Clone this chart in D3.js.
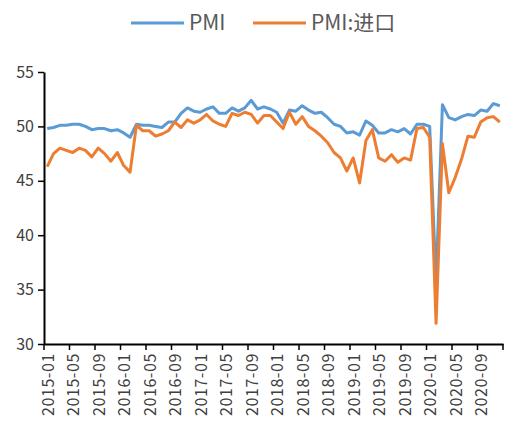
<!DOCTYPE html>
<html>
<head>
<meta charset="utf-8">
<script src="https://cdn.jsdelivr.net/npm/d3@7"></script>
<style>
body { margin: 0; background: #fff; }
svg text { font-family: "Noto Sans CJK SC", "Noto Sans", sans-serif; fill: #595959; }
</style>
</head>
<body>
<svg id="chart" width="505" height="423"></svg>
<script>
var years = ["2015","2016","2017","2018","2019","2020"]
var months = []
years.forEach(function(y){
    for (var m = 1; m <= 12; m++) months.push(y + "-" + (m < 10 ? "0" + m : m))
})

var pmi = [
    49.8,49.9,50.1,50.1,50.2,50.2,50.0,49.7,49.8,49.8,49.6,49.7,
    49.4,49.0,50.2,50.1,50.1,50.0,49.9,50.4,50.4,51.2,51.7,51.4,
    51.3,51.6,51.8,51.2,51.2,51.7,51.4,51.7,52.4,51.6,51.8,51.6,
    51.3,50.3,51.5,51.4,51.9,51.5,51.2,51.3,50.8,50.2,50.0,49.4,
    49.5,49.2,50.5,50.1,49.4,49.4,49.7,49.5,49.8,49.3,50.2,50.2,
    50.0,35.7,52.0,50.8,50.6,50.9,51.1,51.0,51.5,51.4,52.1,51.9
]

var pmiImport = [
    46.3,47.5,48.0,47.8,47.6,48.0,47.8,47.2,48.0,47.5,46.8,47.6,
    46.4,45.8,50.1,49.6,49.6,49.1,49.3,49.6,50.4,49.9,50.6,50.3,
    50.6,51.1,50.5,50.2,50.0,51.2,51.0,51.3,51.1,50.3,51.0,51.0,
    50.4,49.8,51.3,50.2,50.9,50.0,49.6,49.1,48.5,47.6,47.1,45.9,
    47.1,44.8,48.7,49.7,47.1,46.8,47.4,46.7,47.1,46.9,49.8,49.9,
    49.0,31.9,48.4,43.9,45.3,47.0,49.1,49.0,50.4,50.8,50.9,50.4
]

var yTicks = [30,35,40,45,50,55]
var seriesNames = ["PMI","PMI:进口"]
var colors = ["#5B9BD5","#ED7D31"]

var margins = {left:44, right:2, top:72, bottom:79}
var screen = {width:505, height:423}
var graph = {
    width: screen.width - margins.left - margins.right,
    height: screen.height - margins.top - margins.bottom
}

var svg = d3.select("#chart")

var xScale = d3.scaleBand()
    .domain(months)
    .range([0, graph.width])
    .padding(0)

var yScale = d3.scaleLinear()
    .domain([30,55])
    .range([graph.height, 0])

var target = svg.append("g")
    .attr("transform","translate(" + margins.left + "," + margins.top + ")")

// lines
var line = d3.line()
    .x(function(d,i){ return xScale(months[i]) + xScale.bandwidth()/2 })
    .y(function(d){ return yScale(d) })

;[pmi, pmiImport].forEach(function(s, k){
    target.append("path")
        .datum(s)
        .attr("fill","none")
        .attr("stroke", colors[k])
        .attr("stroke-width", 3)
        .attr("stroke-linejoin","round")
        .attr("d", line)
})

// y axis
var yAxis = d3.axisLeft(yScale).tickValues(yTicks).tickSize(6).tickSizeOuter(0).tickPadding(4)
var yg = target.append("g").call(yAxis)
yg.select(".domain").attr("stroke","#000").attr("stroke-width",2)
yg.selectAll(".tick line").attr("stroke","#000").attr("stroke-width",1.5)
yg.selectAll("text").style("font-size","16px").style("fill","#404040")

// x axis, ticks between categories every 4 months
var tickMonths = months.filter(function(m,i){ return i % 4 == 0 })
var xAxis = d3.axisBottom(xScale).tickValues(tickMonths).tickSize(6).tickSizeOuter(0)
var xg = target.append("g")
    .attr("transform","translate(0," + graph.height + ")")
    .call(xAxis)
xg.select(".domain").attr("stroke","#000").attr("stroke-width",2)
var bw = xScale.bandwidth()
xg.selectAll(".tick line")
    .attr("stroke","#000").attr("stroke-width",1.5)
    .attr("x1",-bw/2).attr("x2",-bw/2)
xg.append("line")
    .attr("x1",graph.width).attr("x2",graph.width)
    .attr("y1",0).attr("y2",6)
    .attr("stroke","#000").attr("stroke-width",1.5)
xg.selectAll(".tick text")
    .style("font-size","16px")
    .style("fill","#404040")
    .style("letter-spacing","0.6px")
    .attr("text-anchor","end")
    .attr("dy","0.35em")
    .attr("transform","translate(1,1) rotate(-90)")
    .attr("x",-8).attr("y",0)

// legend
var legend = svg.append("g")
var legendX = [131, 253]
seriesNames.forEach(function(name, k){
    legend.append("line")
        .attr("x1", legendX[k]).attr("x2", legendX[k] + 53)
        .attr("y1", 23).attr("y2", 23)
        .attr("stroke", colors[k]).attr("stroke-width",3)
    legend.append("text")
        .attr("x", legendX[k] + 58).attr("y", 23)
        .attr("dy","0.35em")
        .style("font-size","21px")
        .text(name)
})
</script>
</body>
</html>
